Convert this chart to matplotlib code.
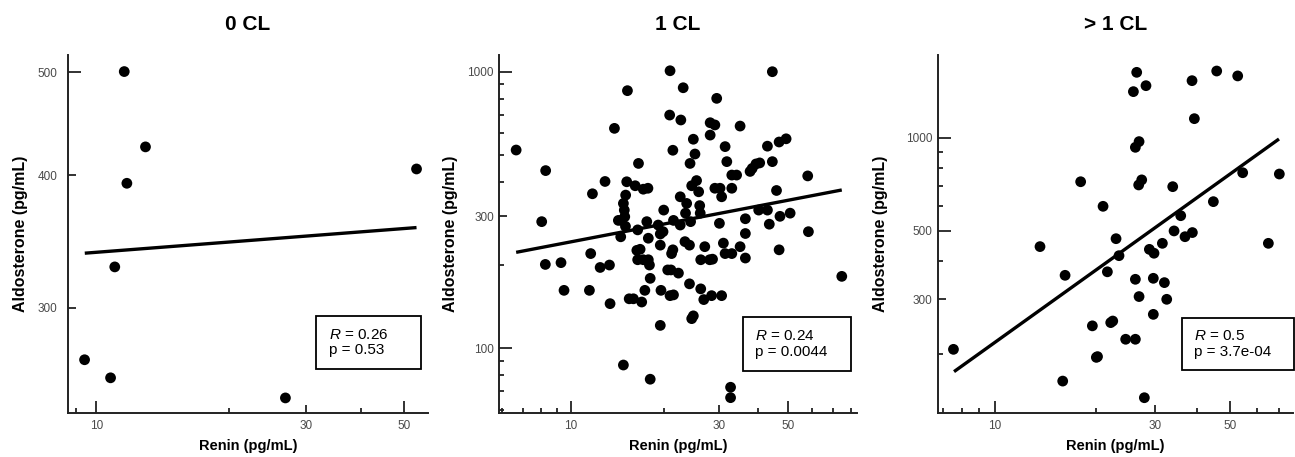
import matplotlib.pyplot as plt
from matplotlib.ticker import NullFormatter

plt.rcParams['font.family'] = ['Liberation Sans', 'DejaVu Sans']
plt.rcParams['mathtext.fontset'] = 'custom'
plt.rcParams['mathtext.it'] = 'Liberation Sans:italic'
plt.rcParams['mathtext.rm'] = 'Liberation Sans'

# ---------------------------------------------------------
## 0 CL
renin_0cl = [11.58, 12.94, 11.74, 11.02, 9.41, 10.78, 26.9, 53.4]
aldo_0cl = [500.7, 425.2, 392.9, 327.7, 267.9, 257.6, 246.6, 405.3]
fit_renin_0cl = [9.42, 53.4]
fit_aldo_0cl = [337.6, 356.9]

## 1 CL
renin_1cl = [6.65, 8.04, 8.28, 8.26, 9.28, 9.49, 11.46, 11.57, 11.72, 12.41,
             12.87, 13.30, 13.36, 13.80, 14.21, 14.57, 14.46, 14.75, 15.12, 15.2,
             15.0, 14.75, 14.85, 14.9, 14.98, 15.4, 15.89, 16.1, 16.5, 16.4,
             16.9, 17.3, 17.1, 17.7, 16.3, 16.7, 16.4, 17.1, 17.55, 17.75,
             18.0, 17.75, 17.9, 18.0, 19.1, 19.4, 19.4, 19.5, 19.4, 19.9,
             19.8, 20.5, 20.8, 20.86, 21.1, 21.3, 20.86, 21.4, 21.3, 21.4,
             21.0, 22.2, 22.5, 22.6, 23.0, 22.5, 23.3, 24.1, 24.1, 23.6,
             23.4, 24.2, 24.5, 24.8, 25.1, 25.4, 25.8, 26.0, 26.1, 24.3,
             24.5, 24.8, 26.2, 26.8, 27.0, 26.2, 28.1, 28.1, 29.1, 28.0,
             28.6, 28.4, 29.5, 29.1, 30.24, 30.6, 31.4, 31.8, 30.1, 31.0,
             30.6, 31.4, 33.0, 33.0, 33.0, 34.2, 35.1, 35.1, 36.5, 36.5,
             36.5, 32.7, 32.7, 37.8, 38.4, 39.5, 40.6, 40.3, 43.0, 44.6,
             43.0, 43.6, 44.6, 46.0, 46.9, 47.2, 46.9, 49.4, 50.9, 58.0,
             58.3, 74.7]
aldo_1cl = [521, 287, 439, 201, 204, 162, 162, 220, 362, 196,
            401, 200, 145, 624, 290, 290, 253, 87, 400, 854,
            358, 334, 316, 299, 276, 151, 151, 387, 466, 268,
            147, 162, 376, 379, 226, 228, 209, 209, 287, 250,
            77.3, 209, 200, 179, 279, 259, 236, 162, 121, 316,
            264, 192, 697, 1008, 220, 227, 155, 156, 520, 290,
            192, 187, 279, 669, 875, 353, 243, 236, 171, 334,
            308, 466, 387, 570, 504, 404, 368, 328, 308, 287,
            128, 131, 164, 150, 233, 209, 590, 654, 642, 209,
            210, 155, 801, 379, 379, 353, 536, 473, 283, 240,
            155, 220, 220, 379, 423, 423, 636, 233, 294, 260,
            212, 72.3, 66.3, 436, 447, 464, 468, 316, 538, 473,
            316, 281, 1000, 372, 557, 300, 227, 572, 308, 420,
            264, 182]
fit_renin_1cl = [6.65, 74.7]
fit_aldo_1cl = [222.3, 373.6]

## > 1 CL
renin_gt1 = [7.54, 13.63, 16.18, 15.92, 18.0, 19.5, 20.04, 20.2, 20.98, 21.61,
             22.11, 22.42, 22.93, 23.40, 24.49, 25.82, 26.41, 28.14, 26.17, 26.84,
             26.77, 27.33, 26.17, 26.84, 26.17, 27.83, 28.80, 29.73, 29.59, 29.59,
             31.48, 31.92, 32.43, 33.79, 34.1, 35.69, 36.75, 38.65, 38.56, 39.18,
             44.62, 45.65, 52.7, 54.53, 65.0, 70.07]
aldo_gt1 = [206.5, 444, 358.5, 163, 720, 246, 194.5, 195.6, 599.5, 368,
            252, 255, 471, 415, 222.6, 1409, 1627, 1473, 930.5, 971,
            703, 730, 348, 306, 222.6, 144, 435, 422.6, 350.6, 268,
            455, 339.5, 299.8, 694, 499, 559, 478, 493, 1529, 1152,
            620.7, 1643, 1584, 770, 455, 762.6]
fit_renin_gt1 = [7.57, 69.9]
fit_aldo_gt1 = [174.9, 990]

titles = ['0 CL', '1 CL', '> 1 CL']
r_text = ['0.26', '0.24', '0.5']
p_text = ['0.53', '0.0044', '3.7e-04']
# ---------------------------------------------------------

fig = plt.figure(figsize=(12.95, 4.57), dpi=100)

paneles = [
    dict(x=renin_0cl, y=aldo_0cl, fx=fit_renin_0cl, fy=fit_aldo_0cl,
         rect=[0.0527, 0.0956, 0.2778, 0.784], xlim=(8.64, 56.7), ylim=(238.5, 519),
         xmaj=[10, 30, 50], xmin=[9, 20, 40],
         ymaj=[300, 400, 500], ymin=[],
         box=(0.689, 0.123, 0.980, 0.2716), ypad=8, ylab=-0.111),
    dict(x=renin_1cl, y=aldo_1cl, fx=fit_renin_1cl, fy=fit_aldo_1cl,
         rect=[0.3856, 0.0956, 0.2760, 0.784], xlim=(5.87, 83.5), ylim=(58.2, 1149),
         xmaj=[10, 30, 50], xmin=[6, 7, 8, 9, 20, 40, 60, 70, 80],
         ymaj=[100, 300, 1000], ymin=[60, 70, 80, 90, 200, 400, 500, 600, 700, 800, 900],
         box=(0.681, 0.118, 0.983, 0.268), ypad=4, ylab=-0.115),
    dict(x=renin_gt1, y=aldo_gt1, fx=fit_renin_gt1, fy=fit_aldo_gt1,
         rect=[0.7241, 0.0956, 0.2746, 0.784], xlim=(6.77, 77.1), ylim=(128.2, 1851),
         xmaj=[10, 30, 50], xmin=[7, 8, 9, 20, 40, 60, 70],
         ymaj=[300, 500, 1000], ymin=[200, 400, 600, 700, 800, 900],
         box=(0.686, 0.121, 1.003, 0.265), ypad=4, ylab=-0.139),
]

largos = [10, 50, 100, 500, 1000]

for i, p in enumerate(paneles):
    ax = fig.add_axes(p['rect'])
    ax.set_xscale('log')
    ax.set_yscale('log')
    ax.scatter(p['x'], p['y'], s=60, c='black', edgecolors='none', zorder=3, clip_on=False)
    ax.plot(p['fx'], p['fy'], color='black', lw=2.4, solid_capstyle='butt', zorder=2)
    ax.set_xlim(*p['xlim'])
    ax.set_ylim(*p['ylim'])

    ax.set_xticks(p['xmaj'], labels=[str(v) for v in p['xmaj']])
    ax.set_xticks(p['xmin'], minor=True)
    ax.set_yticks(p['ymaj'], labels=[str(v) for v in p['ymaj']])
    ax.set_yticks(p['ymin'], minor=True)
    ax.xaxis.set_minor_formatter(NullFormatter())
    ax.yaxis.set_minor_formatter(NullFormatter())

    ax.spines['top'].set_visible(False)
    ax.spines['right'].set_visible(False)
    for s in ['left', 'bottom']:
        ax.spines[s].set_linewidth(1.4)
        ax.spines[s].set_color('#222222')

    ax.tick_params(which='both', direction='in', color='#222222', width=1.3,
                   labelsize=8.5, labelcolor='#4a4a4a')
    ax.tick_params(which='major', length=6)
    ax.tick_params(which='minor', length=3.5)
    ax.tick_params(axis='x', which='major', pad=4.5)
    ax.tick_params(axis='y', which='major', pad=p['ypad'])
    for t in ax.xaxis.get_major_ticks() + ax.yaxis.get_major_ticks():
        if t.get_loc() in largos:
            t.tick1line.set_markersize(9)

    ax.set_title(titles[i], fontsize=15, fontweight='bold', pad=18)
    ax.set_xlabel('Renin (pg/mL)', fontsize=10.5, fontweight='bold', labelpad=5)
    ax.set_ylabel('Aldosterone (pg/mL)', fontsize=11.5, fontweight='bold')
    ax.yaxis.set_label_coords(p['ylab'], 0.5)

    # recuadro con R y p
    x0, y0, x1, y1 = p['box']
    rect = plt.Rectangle((x0, y0), x1 - x0, y1 - y0, transform=ax.transAxes,
                         fill=False, ec='black', lw=1.3, clip_on=False, zorder=4)
    ax.add_patch(rect)
    ax.text(x0 + 0.035, (y0 + y1) / 2, r'$\mathit{R}$ = ' + r_text[i] + '\np = ' + p_text[i],
            transform=ax.transAxes, ha='left', va='center', fontsize=11, linespacing=1.15)

fig.savefig('out.png', dpi=100)
